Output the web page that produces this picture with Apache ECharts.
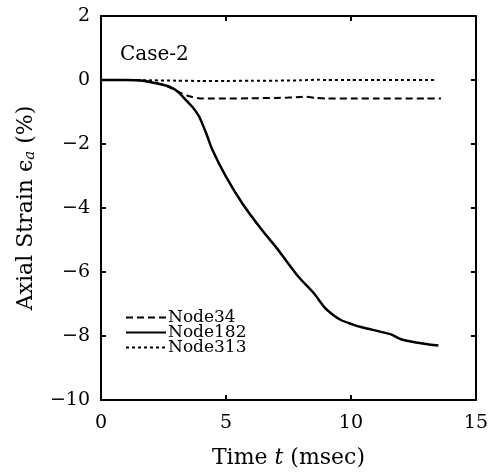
<!DOCTYPE html>
<html><head><meta charset="utf-8">
<script src="https://cdn.jsdelivr.net/npm/echarts@6/dist/echarts.min.js"></script>
<style>html,body{margin:0;padding:0;background:#fff}#c{width:491px;height:474px}</style>
</head><body><div id="c"></div>
<script>
const time182 = [0,1,1.5,1.94,2.3,2.74,3.1,3.4,3.7,3.93,4.2,4.46,5.0,5.65,6.44,6.98,7.24,7.9,8.5,8.97,9.3,9.6,10.0,10.4,11.2,11.6,12.0,12.6,13.5];
const node182 = [0,0,-0.01,-0.06,-0.12,-0.21,-0.38,-0.63,-0.88,-1.15,-1.65,-2.19,-3.02,-3.85,-4.69,-5.2,-5.47,-6.15,-6.65,-7.13,-7.35,-7.5,-7.62,-7.72,-7.87,-7.95,-8.1,-8.2,-8.3];
const time34 = [0,1,1.5,2,2.5,2.8,3.1,3.5,3.9,4.5,5,6,7,7.5,8,8.2,8.6,9,10,11,12,13,13.6];
const node34 = [0,0,-0.01,-0.06,-0.15,-0.25,-0.37,-0.5,-0.57,-0.58,-0.58,-0.57,-0.56,-0.55,-0.53,-0.52,-0.56,-0.58,-0.58,-0.58,-0.58,-0.58,-0.58];
const time313 = [0,1,2,3,4,5,6,7,8,8.7,9,10,11,12,13,13.4];
const node313 = [0,0,-0.01,-0.02,-0.03,-0.03,-0.02,-0.02,-0.01,0.01,0,0,0,0,0,0];
const xTicks = [0,5,10,15];
const yTicks = [-10,-8,-6,-4,-2,0,2];
const seriesNames = ['Node34','Node182','Node313'];
const caseLabel = 'Case-2';

const F = 'DejaVu Serif';
const zip = (a,b)=>a.map((v,i)=>[v,b[i]]);
const fmt = v => String(v).replace('-', '\u2212');
const chart = echarts.init(document.getElementById('c'));
const axisCommon = {
  axisLine:{show:true, onZero:false, lineStyle:{color:'#000', width:2}},
  axisTick:{show:true, inside:true, length:5, lineStyle:{color:'#000', width:2}},
  splitLine:{show:false}
};
chart.setOption({
  animation:false,
  backgroundColor:'#fff',
  title:{text:caseLabel, left:115, top:40, textStyle:{fontFamily:F, fontSize:20, fontWeight:'normal', color:'#000'}},
  grid:{left:101, right:12, top:16, bottom:74},
  legend:{
    orient:'vertical', left:125, top:309, padding:0, itemGap:-2, itemWidth:40, itemHeight:10,
    data:seriesNames,
    itemStyle:{opacity:0},
    textStyle:{fontFamily:F, fontSize:17, color:'#000', padding:[0,0,0,-3]}
  },
  xAxis:[
    Object.assign({type:'value', min:0, max:15, interval:5,
      name:'Time {i|t} (msec)', nameLocation:'middle', nameGap:47,
      nameTextStyle:{fontFamily:F, fontSize:22, color:'#000',
        rich:{i:{fontFamily:F, fontStyle:'italic', fontSize:22, color:'#000'}}},
      axisLabel:{fontFamily:F, fontSize:19, color:'#000', margin:14, formatter:fmt}}, axisCommon),
    Object.assign({type:'value', min:0, max:15, interval:5, position:'top', axisLabel:{show:false}}, axisCommon)
  ],
  yAxis:[
    Object.assign({type:'value', min:-10, max:2, interval:2,
      name:'Axial Strain {i|ϵ}{s|a} (%)', nameLocation:'middle', nameGap:63,
      nameTextStyle:{fontFamily:F, fontSize:22, color:'#000',
        rich:{i:{fontFamily:F, fontSize:22, color:'#000'},
              s:{fontFamily:F, fontStyle:'italic', fontSize:15, color:'#000', padding:[9,0,0,0]}}},
      axisLabel:{fontFamily:F, fontSize:19, color:'#000', margin:11, formatter:fmt}}, axisCommon),
    Object.assign({type:'value', min:-10, max:2, interval:2, position:'right', axisLabel:{show:false}}, axisCommon)
  ],
  series:[
    {name:'Node34', type:'line', data:zip(time34,node34), showSymbol:false, symbol:'none', smooth:0.25,
     lineStyle:{color:'#000', width:2, type:[7,4]}, itemStyle:{color:'#000'}},
    {name:'Node182', type:'line', data:zip(time182,node182), showSymbol:false, symbol:'none', smooth:0.25,
     lineStyle:{color:'#000', width:2.5, type:'solid'}, itemStyle:{color:'#000'}},
    {name:'Node313', type:'line', data:zip(time313,node313), showSymbol:false, symbol:'none', smooth:0.25,
     lineStyle:{color:'#000', width:2, type:[3,3]}, itemStyle:{color:'#000'}}
  ]
});
</script></body></html>
